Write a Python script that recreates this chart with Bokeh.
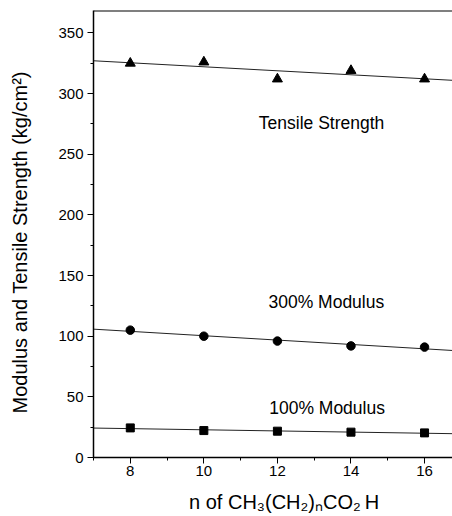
from bokeh.plotting import figure
from bokeh.models import Range1d, SingleIntervalTicker, Span, Label
from bokeh.embed import file_html
from bokeh.resources import INLINE
import numpy as np

# ---- data ----
n_values = [8, 10, 12, 14, 16]
tensile_strength = [325, 326, 312, 319, 312]
modulus_300 = [105, 100, 96, 92, 91]
modulus_100 = [24.4, 22.2, 21.7, 20.9, 20.3]

series_labels = ["Tensile Strength", "300% Modulus", "100% Modulus"]
label_x = [13.2, 13.33, 13.35]
label_y = [275.6, 127.8, 40.7]

x_title = "\u00a0\u00a0\u00a0\u00a0n of CH\u2083(CH\u2082)\u2099CO\u2082\u2009H"
y_title = "Modulus and Tensile Strength (kg/cm\u00b2)\u00a0\u00a0\u00a0"

x_min, x_max = 7, 16.76
y_min, y_max = 0, 368.5

FONT = "Liberation Sans"

p = figure(width=452, height=516, x_range=Range1d(x_min, x_max), y_range=Range1d(y_min, y_max),
           output_backend="svg", toolbar_location=None,
           min_border_left=93, min_border_right=0, min_border_top=10, min_border_bottom=59)
p.outline_line_color = None
p.xgrid.visible = False
p.ygrid.visible = False
p.background_fill_color = "white"
p.border_fill_color = "white"

# fitted straight lines through each series
fit_x = np.array([x_min, 17.0])
for ys in (tensile_strength, modulus_300, modulus_100):
    k, b = np.polyfit(n_values, ys, 1)
    p.line(fit_x, k * fit_x + b, line_color="#222222", line_width=1)

p.scatter(n_values, tensile_strength, marker="triangle", size=10, fill_color="black", line_color="black")
p.scatter(n_values, modulus_300, marker="circle", size=8.5, fill_color="black", line_color="black")
p.scatter(n_values, modulus_100, marker="square", size=8, fill_color="black", line_color="black")

for t, lx, ly in zip(series_labels, label_x, label_y):
    p.add_layout(Label(x=lx, y=ly, text=t, text_align="center", text_baseline="middle",
                       text_font=FONT, text_font_size="17.5px", text_color="black"))

# top frame border
p.add_layout(Span(location=y_max, dimension="width", line_color="black", line_width=2))

p.xaxis.ticker = SingleIntervalTicker(interval=2, num_minor_ticks=2)
p.yaxis.ticker = SingleIntervalTicker(interval=50, num_minor_ticks=2)
for ax in (p.xaxis[0], p.yaxis[0]):
    ax.axis_line_width = 1.5
    ax.axis_line_color = "black"
    ax.major_tick_in = 0
    ax.major_tick_out = 6
    ax.minor_tick_in = 0
    ax.minor_tick_out = 3
    ax.major_tick_line_color = "black"
    ax.minor_tick_line_color = "black"
    ax.major_label_text_font = FONT
    ax.major_label_text_font_size = "15px"
    ax.major_label_text_color = "black"
    ax.axis_label_text_font = FONT
    ax.axis_label_text_font_style = "normal"
    ax.axis_label_text_color = "black"
    ax.axis_label_text_font_size = "20px"

p.xaxis.major_label_standoff = 2
p.yaxis.major_label_standoff = 4
p.xaxis.axis_label = x_title
p.yaxis.axis_label = y_title
p.xaxis.axis_label_standoff = 12
p.yaxis.axis_label_standoff = 24

open("out.html", "w").write(file_html(p, INLINE))
